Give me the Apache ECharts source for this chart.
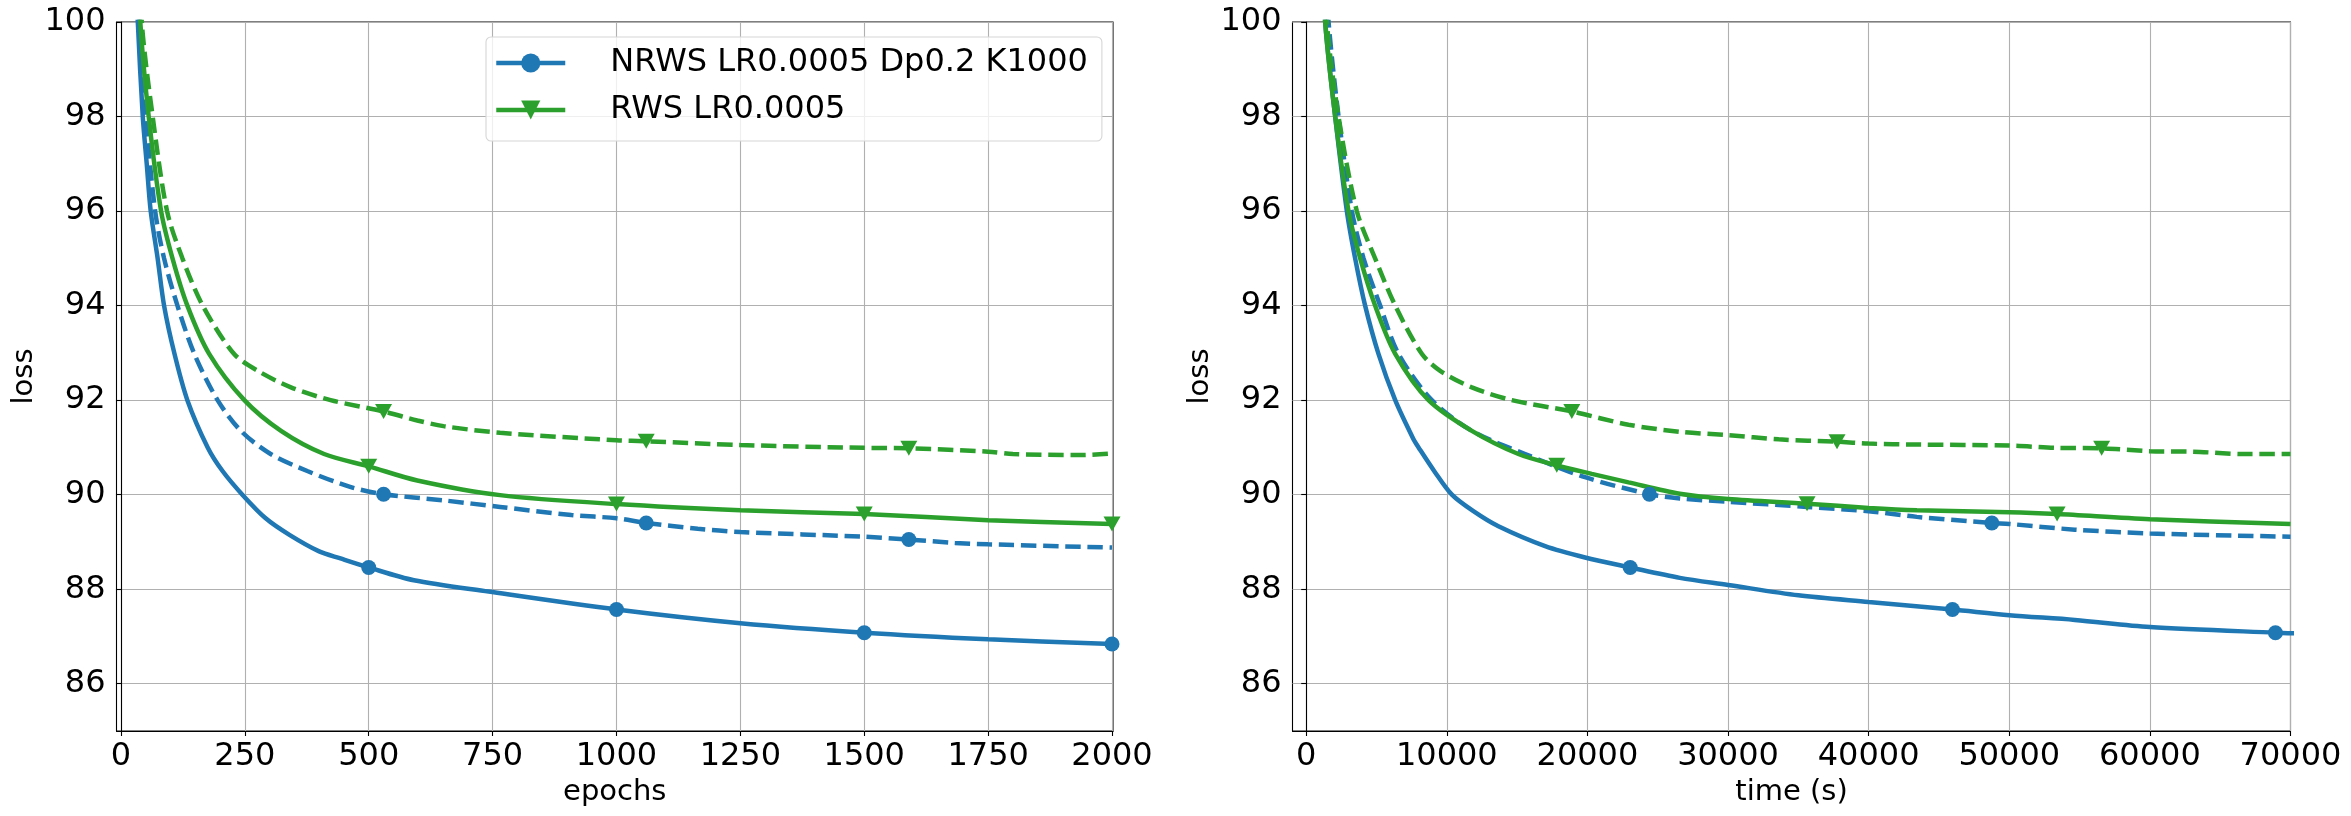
<!DOCTYPE html>
<html>
<head>
<meta charset="utf-8">
<script src="https://cdn.jsdelivr.net/npm/echarts@6/dist/echarts.min.js"></script>
<style>
  html, body { margin: 0; padding: 0; background: #fff; }
  #chart { width: 2351px; height: 816px; }
</style>
</head>
<body>
<div id="chart"></div>
<script>
// ---- data ----
// left panel: loss vs epochs
const epBlueSolid   = [20, 34, 44, 52, 60, 74, 87, 108, 134, 175, 205, 245, 292, 340, 400, 443, 500, 591, 742, 1000, 1250, 1500, 1750, 2000];
const lossBlueSolid = [103.5, 100, 98, 97, 96, 95, 94, 92.98, 92, 91, 90.5, 90, 89.5, 89.15, 88.8, 88.65, 88.46, 88.19, 87.95, 87.57, 87.28, 87.08, 86.94, 86.84];
const epBlueDash    = [20, 37, 50, 69, 87, 114, 148, 195, 242, 302, 376, 464, 530, 651, 765, 909, 1000, 1060, 1164, 1250, 1500, 1590, 1683, 1750, 2000];
const lossBlueDash  = [103.5, 100, 98, 96, 95, 94, 92.98, 92, 91.35, 90.86, 90.5, 90.16, 90.01, 89.88, 89.74, 89.57, 89.5, 89.4, 89.28, 89.21, 89.11, 89.05, 88.98, 88.95, 88.88];
const epGreenSolid  = [20, 39, 56, 81, 104, 134, 178, 249, 323, 410, 500, 598, 765, 1000, 1250, 1500, 1750, 2000];
const lossGreenSolid= [104, 100, 98, 96, 95, 94, 92.98, 92, 91.35, 90.86, 90.6, 90.3, 89.99, 89.8, 89.67, 89.59, 89.46, 89.38];
const epGreenDash   = [20, 42, 64, 93, 124, 165, 228, 276, 343, 423, 530, 598, 651, 765, 1000, 1060, 1250, 1500, 1590, 1750, 1800, 1940, 2000];
const lossGreenDash = [104.5, 100, 98, 96, 95, 94, 92.98, 92.62, 92.27, 92, 91.76, 91.57, 91.45, 91.31, 91.15, 91.13, 91.05, 90.99, 90.98, 90.91, 90.86, 90.84, 90.87];

// right panel: loss vs time (s)
const tBlueSolid    = [800, 1350, 2060, 2890, 3480, 4190, 5140, 6330, 7620, 7990, 9170, 10360, 11890, 13670, 16990, 19830, 23040, 26570, 30000, 35000, 40000, 45960, 50000, 54660, 60000, 68930, 71000];
const tLossBlueSolid= [103, 100, 98, 96, 95, 94, 92.98, 92, 91.18, 91, 90.47, 90, 89.65, 89.33, 88.91, 88.67, 88.46, 88.24, 88.09, 87.87, 87.73, 87.57, 87.45, 87.35, 87.2, 87.08, 87.06];
const tBlueDash     = [900, 1590, 2300, 3250, 4080, 5260, 6560, 8930, 11780, 15570, 19830, 24410, 26570, 30000, 35620, 40000, 43430, 48760, 50000, 54660, 60000, 70000];
const tLossBlueDash = [103, 100, 98, 96, 95, 94, 92.98, 92, 91.35, 90.86, 90.37, 90.01, 89.92, 89.85, 89.74, 89.65, 89.53, 89.4, 89.38, 89.26, 89.18, 89.11];
const tGreenSolid   = [700, 1350, 2060, 3010, 3840, 4900, 6330, 8700, 11780, 15090, 17820, 20310, 22920, 26570, 30000, 35620, 40000, 43430, 50000, 53400, 60000, 70000];
const tLossGreenSolid=[103.5, 100, 98, 96, 95, 94, 92.98, 92, 91.35, 90.86, 90.62, 90.44, 90.26, 90.02, 89.91, 89.81, 89.72, 89.67, 89.63, 89.59, 89.48, 89.38];
const tGreenDash    = [750, 1470, 2300, 3600, 4900, 6330, 8220, 9530, 11780, 14620, 18890, 22920, 26570, 30000, 33600, 37750, 40000, 43430, 50000, 53260, 56570, 60000, 63090, 66740, 70000];
const tLossGreenDash= [104, 100, 98, 96, 95, 94, 92.98, 92.62, 92.27, 92, 91.76, 91.48, 91.33, 91.26, 91.17, 91.12, 91.08, 91.06, 91.04, 90.99, 90.98, 90.92, 90.91, 90.86, 90.86];

// marker positions (x values that carry a symbol)
const mkEpSolid  = [500, 1000, 1500, 2000];
const mkEpDash   = [530, 1060, 1590];
const mkTBlueSolid  = [23040, 45960, 68930];
const mkTBlueDash   = [24410, 48760];
const mkTGreenSolid = [17820, 35620, 53400];
const mkTGreenDash  = [18890, 37750, 56570];

const yTicks  = [86, 88, 90, 92, 94, 96, 98, 100];
const epTicks = [0, 250, 500, 750, 1000, 1250, 1500, 1750, 2000];
const tTicks  = [0, 10000, 20000, 30000, 40000, 50000, 60000, 70000];

const NAME_NRWS = "NRWS LR0.0005 Dp0.2 K1000";
const NAME_RWS  = "RWS LR0.0005";

// ---- chart ----
const BLUE = "#1f77b4", GREEN = "#2ca02c";
const FONT = "DejaVu Sans";
const TICK_FS = 32, NAME_FS = 29;
const TRI_DOWN = "path://M0,0 L10,0 L5,9 Z";
const DASH = [15.4, 6.7];

function pts(xs, ys, marks) {
  return xs.map((x, i) => marks.indexOf(x) >= 0 ? { value: [x, ys[i]] } : { value: [x, ys[i]], symbol: "none" });
}

function lineSeries(name, idx, color, dashed, symbol, xs, ys, marks) {
  return {
    name: name, type: "line", xAxisIndex: idx, yAxisIndex: idx,
    data: pts(xs, ys, marks),
    symbol: symbol, symbolSize: symbol === "circle" ? 15 : [17, 15],
    showSymbol: true, smooth: 0.3, clip: true,
    lineStyle: { width: 4.5, color: color, type: dashed ? DASH : "solid" },
    itemStyle: { color: color },
    z: 3,
  };
}

function xAxis(idx, min, max, ticks, name) {
  return {
    type: "value", gridIndex: idx, min: min, max: max,
    name: name, nameLocation: "middle", nameGap: 40,
    nameTextStyle: { fontFamily: FONT, fontSize: NAME_FS, color: "#000" },
    axisLine: { show: true, lineStyle: { color: "#000", width: 1.1 } },
    axisTick: { show: true, inside: false, length: 5, customValues: ticks, lineStyle: { color: "#000", width: 1.1 } },
    axisLabel: { customValues: ticks, margin: 10, fontFamily: FONT, fontSize: TICK_FS, color: "#000", formatter: v => String(v) },
    splitLine: { show: true, lineStyle: { color: "#b0b0b0", width: 1.1 } },
  };
}

function yAxis(idx) {
  return {
    type: "value", gridIndex: idx, min: 85, max: 100,
    name: "loss", nameLocation: "middle", nameGap: 78, nameRotate: 90,
    nameTextStyle: { fontFamily: FONT, fontSize: NAME_FS, color: "#000" },
    axisLine: { show: true, lineStyle: { color: "#000", width: 1.1 } },
    axisTick: { show: true, inside: false, length: 5, customValues: yTicks, lineStyle: { color: "#000", width: 1.1 } },
    axisLabel: { customValues: yTicks, margin: 11, fontFamily: FONT, fontSize: TICK_FS, color: "#000", formatter: v => String(v) },
    splitLine: { show: true, lineStyle: { color: "#b0b0b0", width: 1.1 } },
  };
}

const chart = echarts.init(document.getElementById("chart"), null, { renderer: "canvas" });
chart.setOption({
  animation: false,
  backgroundColor: "#fff",
  grid: [
    { left: 116.5, top: 22, width: 996.5, height: 709, show: true, borderColor: "#000", borderWidth: 1.1, backgroundColor: "transparent" },
    { left: 1292.5, top: 22, width: 998, height: 709, show: true, borderColor: "#000", borderWidth: 1.1, backgroundColor: "transparent" },
  ],
  xAxis: [xAxis(0, -9, 2002, epTicks, "epochs"), xAxis(1, -975, 70000, tTicks, "time (s)")],
  yAxis: [yAxis(0), yAxis(1)],
  legend: {
    data: [NAME_NRWS, NAME_RWS],
    orient: "vertical", left: 486, top: 37,
    padding: [8, 14, 13, 8], itemGap: 11,
    itemWidth: 69, itemHeight: 24,
    lineStyle: { width: 4.5 },
    backgroundColor: "rgba(255,255,255,0.8)",
    borderColor: "#d6d6d6", borderWidth: 1.1, borderRadius: 5,
    textStyle: { fontFamily: FONT, fontSize: TICK_FS, color: "#000", lineHeight: 36, padding: [0, 0, 0, 40] },
    selectedMode: false,
  },
  series: [
    lineSeries(NAME_NRWS, 0, BLUE, false, "circle", epBlueSolid, lossBlueSolid, mkEpSolid),
    lineSeries("NRWS dashed", 0, BLUE, true, "circle", epBlueDash, lossBlueDash, mkEpDash),
    lineSeries(NAME_RWS, 0, GREEN, false, TRI_DOWN, epGreenSolid, lossGreenSolid, mkEpSolid),
    lineSeries("RWS dashed", 0, GREEN, true, TRI_DOWN, epGreenDash, lossGreenDash, mkEpDash),
    lineSeries(NAME_NRWS, 1, BLUE, false, "circle", tBlueSolid, tLossBlueSolid, mkTBlueSolid),
    lineSeries("NRWS dashed", 1, BLUE, true, "circle", tBlueDash, tLossBlueDash, mkTBlueDash),
    lineSeries(NAME_RWS, 1, GREEN, false, TRI_DOWN, tGreenSolid, tLossGreenSolid, mkTGreenSolid),
    lineSeries("RWS dashed", 1, GREEN, true, TRI_DOWN, tGreenDash, tLossGreenDash, mkTGreenDash),
  ],
});
</script>
</body>
</html>
